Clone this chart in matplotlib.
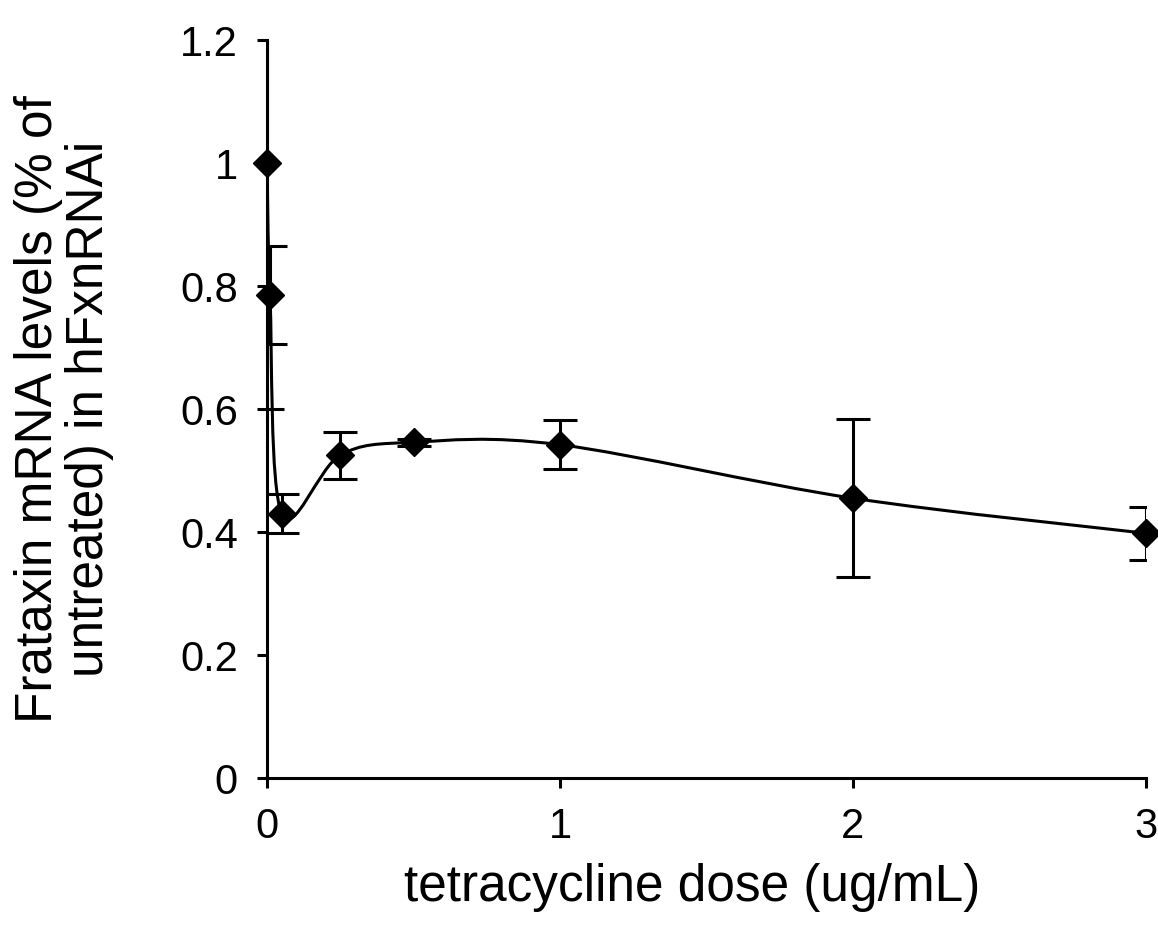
import matplotlib
matplotlib.use('Agg')
import matplotlib.pyplot as plt
from matplotlib.path import Path
from matplotlib.patches import PathPatch
import numpy as np

plt.rcParams['font.family'] = ['Liberation Sans', 'DejaVu Sans']

# tetracycline dose (ug/mL) and frataxin mRNA level (fraction of untreated)
dose = [0, 0.01, 0.05, 0.25, 0.5, 1, 2, 3]
level = [1.0, 0.785, 0.43, 0.525, 0.546, 0.542, 0.455, 0.398]
err = [0.40, 0.08, 0.032, 0.038, 0.006, 0.04, 0.128, 0.043]

x_ticks = [0, 1, 2, 3]
y_ticks = [0, 0.2, 0.4, 0.6, 0.8, 1, 1.2]
y_tick_labels = ['0', '0.2', '0.4', '0.6', '0.8', '1', '1.2']


def smooth_path(xs, ys):
    '''
    Excel style smoothed line: cubic bezier segments through the points
    '''
    pts = np.column_stack([xs, ys])
    n = len(pts)
    verts = [pts[0]]
    codes = [Path.MOVETO]
    for i in range(n - 1):
        p0 = pts[i - 1] if i > 0 else pts[i]
        p1 = pts[i]
        p2 = pts[i + 1]
        p3 = pts[i + 2] if i + 2 < n else pts[i + 1]
        c1 = p1 + (p2 - p0) / 6.0
        c2 = p2 - (p3 - p1) / 6.0
        verts += [c1, c2, p2]
        codes += [Path.CURVE4] * 3
    return Path(verts, codes)


fig = plt.figure(figsize=(11.58, 9.27), dpi=100)
ax = fig.add_axes([0.2306, 0.1607, 0.7590, 0.7961])

ax.add_patch(PathPatch(smooth_path(dose, level), facecolor='none',
                       edgecolor='black', lw=2.2, zorder=3))
ax.errorbar(dose, level, yerr=err, fmt='none', ecolor='black',
            elinewidth=2.2, capsize=12, capthick=2.2, zorder=4)
ax.plot(dose, level, 'D', color='black', ms=14, zorder=5, clip_on=False)

ax.set_xlim(0, 3)
ax.set_ylim(0, 1.2)
ax.set_xticks(x_ticks)
ax.set_xticklabels([str(t) for t in x_ticks])
ax.set_yticks(y_ticks)
ax.set_yticklabels(y_tick_labels)

for s in ['top', 'right']:
    ax.spines[s].set_visible(False)
for s in ['left', 'bottom']:
    ax.spines[s].set_linewidth(2.2)

ax.tick_params(axis='both', direction='out', length=7, width=2.2,
               labelsize=30, pad=14)

ax.set_xlabel('tetracycline dose (ug/mL)', fontsize=37)
ax.xaxis.set_label_coords(0.484, -0.115)
ax.set_ylabel('Frataxin mRNA levels (% of\nuntreated) in hFxnRNAi',
              fontsize=37, linespacing=1.05)
ax.yaxis.set_label_coords(-0.174, 0.5)

fig.savefig('out.png', dpi=100)
